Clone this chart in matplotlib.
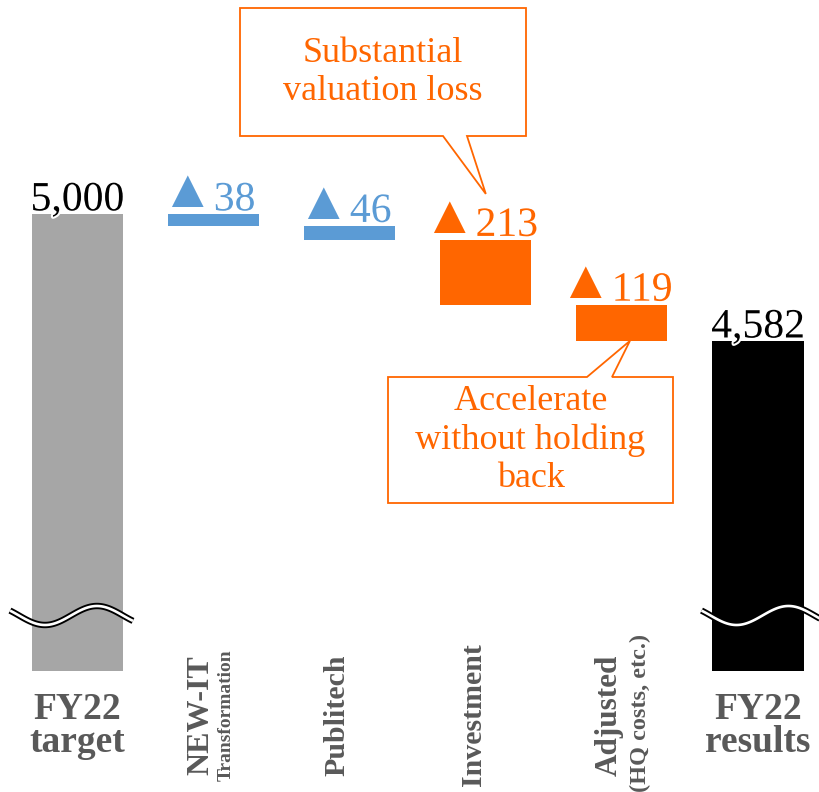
import matplotlib
matplotlib.use("Agg")
import matplotlib.pyplot as plt
import matplotlib.patheffects as pe
from matplotlib import transforms
from matplotlib.patches import Polygon
import numpy as np

# ---- data -------------------------------------------------------------
categories = ["FY22\ntarget", "NEW-IT", "Publitech", "Investment", "Adjusted", "FY22\nresults"]
sub_labels = ["", "Transformation", "", "", "(HQ costs, etc.)", ""]
target_value = 5000
change_values = [-38, -46, -213, -119]
result_value = 4582
bar_colors = ["#A6A6A6", "#5B9BD5", "#5B9BD5", "#FF6600", "#FF6600", "#000000"]
callout_texts = ["Substantial\nvaluation loss", "Accelerate\nwithout holding\nback"]

# ---- figure / axes ----------------------------------------------------
W, H = 819, 792
SERIF = ["Liberation Serif", "DejaVu Serif", "DejaVu Sans"]
GREY_TXT = "#595959"
ORANGE = "#FF6600"

fig = plt.figure(figsize=(W / 100, H / 100), dpi=100)
ax = fig.add_axes([0, 121.5 / H, 1, 670.5 / H])
ax.set_xlim(-0.5694, 5.448)
ax.set_ylim(3500, 5705)
ax.axis("off")

# pixel coordinates measured from the top-left corner of the figure
fig_px = transforms.Affine2D().scale(1 / W, -1 / H).translate(0, 1) + fig.transFigure
x_px = transforms.blended_transform_factory(ax.transData, fig_px)


def to_px(x, y):
    dx, dy = ax.transData.transform((x, y))
    return dx, H - dy


halo = [pe.withStroke(linewidth=3, foreground="white")]

x = np.arange(len(categories))
width = 0.669
floor = ax.get_ylim()[0]

# ---- bars -------------------------------------------------------------
ax.bar(x[0], target_value - floor, bottom=floor, width=width, color=bar_colors[0], zorder=2)
ax.bar(x[-1], result_value - floor, bottom=floor, width=width, color=bar_colors[-1], zorder=2)

LABEL_PT = 30
DIGIT_PX = 0.5 * LABEL_PT * 100 / 72      # advance of one serif digit
TRI_PX, TRI_GAP = 32, 8

starts = target_value + np.concatenate([[0], np.cumsum(change_values)[:-1]])
for i, (s, c) in enumerate(zip(starts, change_values), start=1):
    ax.bar(x[i], c, bottom=s, width=width, color=bar_colors[i], zorder=2)

    # "▲" marks a decrease; the triangle and the figure are set separately
    num = f"{abs(c):,}"
    total = TRI_PX + TRI_GAP + DIGIT_PX * len(num)
    split = -total / 2 + TRI_PX + TRI_GAP
    ax.annotate("▲", xy=(x[i], s), xytext=(split + 1, 7),
                textcoords="offset pixels", ha="right", va="baseline",
                fontsize=39, family=SERIF, color=bar_colors[i], zorder=5)
    ax.annotate(num, xy=(x[i], s), xytext=(split + 1, 4),
                textcoords="offset pixels", ha="left", va="baseline",
                fontsize=LABEL_PT, family=SERIF, color=bar_colors[i],
                path_effects=halo, zorder=5)

for i, v in ((0, target_value), (len(categories) - 1, result_value)):
    ax.annotate(f"{v:,}", xy=(x[i], v), xytext=(0, 4), textcoords="offset pixels",
                ha="center", va="baseline", fontsize=LABEL_PT, family=SERIF,
                color="black", path_effects=halo, zorder=5)

# ---- axis break marks on the total bars ---------------------------------
def draw_break(i, start_offset):
    left, _ = to_px(x[i] - width / 2, floor)
    xs = np.linspace(0, 123, 120)
    xa = xs + 10
    ys = 615.5 + 9.5 * np.cos(2 * np.pi * (xa - 45) / 104)
    xs = xs + left + start_offset
    ax.plot(xs, ys, transform=fig_px, color="black", lw=4.6,
            solid_capstyle="butt", zorder=4, clip_on=False)
    ax.plot(xs, ys, transform=fig_px, color="white", lw=1.9,
            solid_capstyle="butt", zorder=4, clip_on=False)


draw_break(0, -22)
draw_break(len(categories) - 1, -11)

# ---- category labels ----------------------------------------------------
main_size = {"NEW-IT": 23, "Publitech": 21.5, "Investment": 21.5, "Adjusted": 22.5}
sub_style = {"Transformation": (14, 17, 715), "(HQ costs, etc.)": (17.5, 24, 713)}

for i, name in enumerate(categories):
    if "\n" in name:
        ax.text(x[i], 692, name, transform=x_px, ha="center", va="top",
                linespacing=0.92, fontsize=27, fontweight="bold",
                family=SERIF, color=GREY_TXT)
    else:
        t_main = transforms.offset_copy(x_px, fig, x=-5, y=0, units="dots")
        ax.text(x[i], 715, name, transform=t_main, rotation=90,
                rotation_mode="anchor", ha="center", va="baseline",
                fontsize=main_size[name], fontweight="bold", family=SERIF,
                color=GREY_TXT)
        if sub_labels[i]:
            size, dx, yc = sub_style[sub_labels[i]]
            t_sub = transforms.offset_copy(x_px, fig, x=dx, y=0, units="dots")
            ax.text(x[i], yc, sub_labels[i], transform=t_sub, rotation=90,
                    rotation_mode="anchor", ha="center", va="baseline",
                    fontsize=size, fontweight="bold", family=SERIF, color=GREY_TXT)

# ---- callouts -------------------------------------------------------------
inv_x, inv_top = to_px(x[3], starts[2])
tip1 = (inv_x, inv_top - 46)
box1 = [(240, 8), (526, 8), (526, 136), (467, 136), tip1, (443, 136), (240, 136)]

adj_x, adj_bottom = to_px(x[4], starts[3] + change_values[3])
tip2 = (adj_x + 8, adj_bottom)
box2 = [(388, 377), (587, 377), tip2, (612, 377), (673, 377), (673, 503), (388, 503)]

for verts, text, centre in ((box1, callout_texts[0], (383, 72)),
                            (box2, callout_texts[1], (530.5, 440))):
    ax.add_patch(Polygon(verts, closed=True, transform=fig_px, facecolor="white",
                         edgecolor=ORANGE, lw=1.3, zorder=6, clip_on=False))
    ax.text(*centre, text, transform=fig_px, ha="center", va="center",
            multialignment="center", fontsize=26, family=SERIF, color=ORANGE,
            linespacing=1.2, zorder=7)

fig.savefig("out.png", dpi=100, facecolor="white")
